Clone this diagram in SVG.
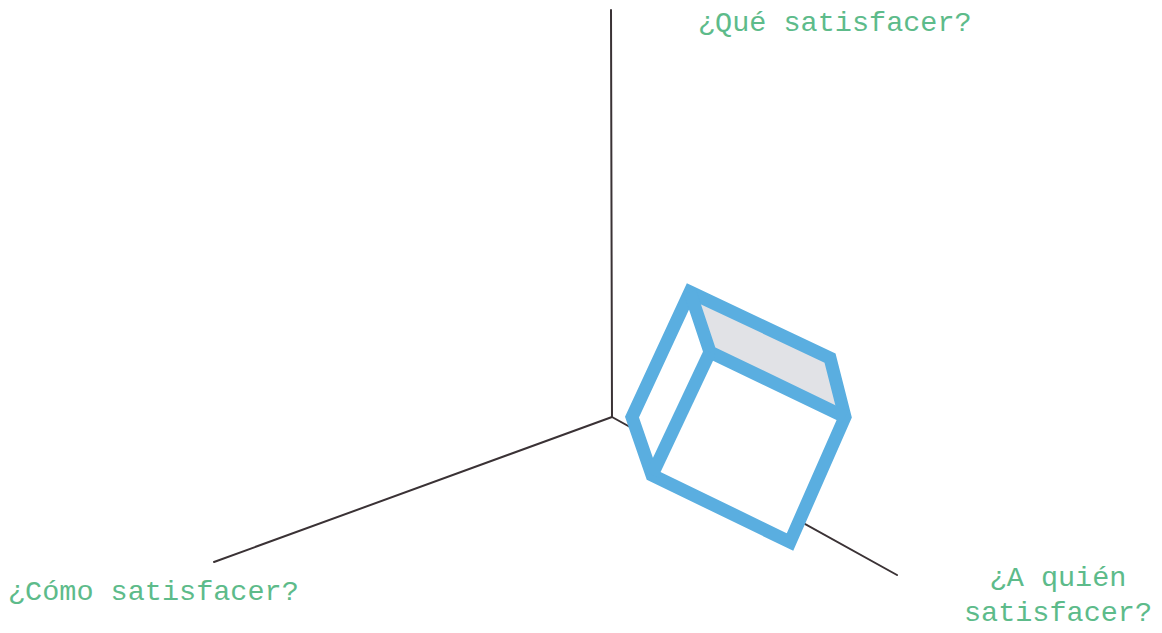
<svg xmlns="http://www.w3.org/2000/svg" width="1162" height="633" viewBox="0 0 1162 633">
<style>
.axis{stroke:#3a3235;stroke-width:2;fill:none;stroke-linecap:round}
.lbl{font-family:"Liberation Mono","DejaVu Sans Mono",monospace;font-size:28.5px;fill:#5dbb8a}
.edge{stroke:#5aaee0;stroke-width:13;fill:none;stroke-linejoin:miter}
</style>
<rect width="1162" height="633" fill="#ffffff"/>
<g id="connectors">
<line class="axis" x1="611" y1="10" x2="612" y2="417"/>
<line class="axis" x1="612" y1="417" x2="214" y2="562"/>
<line class="axis" x1="612" y1="417" x2="897" y2="575"/>
</g>
<g id="cube">
<polygon points="690,292 830,358 845,417 710,352" fill="#e1e2e6"/>
<polygon points="710,352 845,417 790,542 652,475" fill="#ffffff"/>
<polygon points="690,292 710,352 652,475 632,417" fill="#ffffff"/>
<polygon class="edge" points="690,292 830,358 845,417 790,542 652,475 632,417"/>
<polyline class="edge" points="690,292 710,352 845,417"/>
<line class="edge" x1="710" y1="352" x2="652" y2="475"/>
</g>
<g id="label-que"><text class="lbl" x="698" y="31">¿Qué satisfacer?</text></g>
<g id="label-como"><text class="lbl" x="8" y="600">¿Cómo satisfacer?</text></g>
<g id="label-quien"><text class="lbl" text-anchor="middle" x="1058" y="586">¿A quién</text><text class="lbl" text-anchor="middle" x="1058" y="621">satisfacer?</text></g>
</svg>
